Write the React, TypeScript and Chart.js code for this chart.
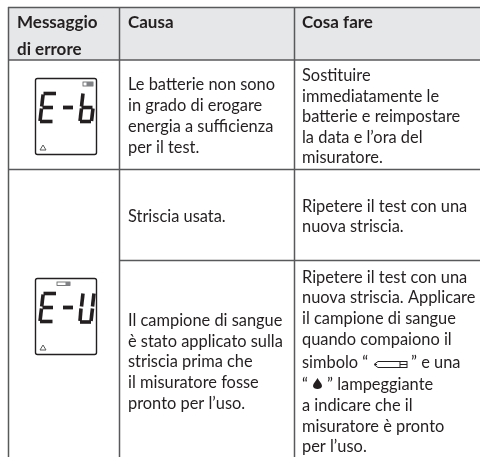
import React, { useEffect, useRef } from "react";
import { Chart, registerables } from "chart.js";

Chart.register(...registerables);

const WIDTH = 480;
const HEIGHT = 457;

// Table text
const headerTexts = ["Messaggio", "di errore", "Causa", "Cosa fare"];
const headerX = [17, 17, 128, 302];
const headerY = [28, 55, 28, 28];

const bodyTexts = [
  "Le batterie non sono", "in grado di erogare", "energia a sufficienza", "per il test.",
  "Sostituire", "immediatamente le", "batterie e reimpostare", "la data e l’ora del", "misuratore.",
  "Striscia usata.",
  "Ripetere il test con una", "nuova striscia.",
  "Il campione di sangue", "è stato applicato sulla", "striscia prima che", "il misuratore fosse", "pronto per l’uso.",
  "Ripetere il test con una", "nuova striscia. Applicare", "il campione di sangue", "quando compaiono il",
  "simbolo “", "” e una", "“", "” lampeggiante",
  "a indicare che il", "misuratore è pronto", "per l’uso.",
];
const bodyX = [
  128, 128, 128, 128,
  302, 302, 302, 302, 302,
  128,
  302, 302,
  128, 128, 128, 128, 128,
  302, 302, 302, 302,
  302, 411, 302, 327,
  302, 302, 302,
];
const bodyY = [
  90, 111, 132, 153,
  81, 101.5, 122, 142.5, 163,
  221.5,
  211.5, 232,
  326, 346.7, 367.3, 388.3, 409,
  282.7, 303, 324.3, 345,
  367.7, 367.7, 390, 390,
  411, 431.7, 452.3,
];

// Table rules as [x1, y1, x2, y2]
const ruleCoords = [
  [8, 7.5, 480, 7.5],
  [8, 60, 480, 60],
  [8, 169.5, 480, 169.5],
  [119.5, 260.5, 480, 260.5],
  [8.5, 7, 8.5, 457],
  [119.5, 7, 119.5, 457],
  [294.5, 7, 294.5, 457],
];

// LCD icon
const lcdTops = [78.5, 278.5];
const lcdLeft = 35.5;
const lcdRight = 96.5;
const lcdHeight = 76;

// Seven segment strokes relative to the LCD box: x1, y1, x2, y2
const glyphE = [
  [8, 15, 20.5, 15], [7.6, 16, 6.2, 28], [7, 29, 17.5, 29], [6, 30, 4.5, 42.5], [4.5, 43, 17, 43],
];
const glyphDash = [[27.5, 29, 37.5, 29]];
const glyphB = [
  [47.5, 15, 46, 28], [46, 30, 44.5, 42.5], [46, 29, 57, 29], [57.5, 30, 56, 42.5], [44.5, 43, 55.5, 43],
];
const glyphU = [
  [58.5, 15, 57, 28], [57, 30, 55.5, 42.5], [45.5, 30, 44.5, 42.5], [47.5, 15, 46, 28], [44.5, 43.5, 55.5, 43.5],
];

const tablePlugin = {
  id: "tablePlugin",
  beforeDatasetsDraw(chart: any) {
    const { ctx, scales } = chart;
    const X = (v: number) => scales.x.getPixelForValue(v);
    const Y = (v: number) => scales.y.getPixelForValue(v);
    ctx.save();
    ctx.fillStyle = "#e6e7e8";
    ctx.fillRect(X(8), Y(7.5), X(480) - X(8), Y(60) - Y(7.5));
    ctx.restore();
  },
  afterDatasetsDraw(chart: any) {
    const { ctx, scales } = chart;
    const X = (v: number) => scales.x.getPixelForValue(v);
    const Y = (v: number) => scales.y.getPixelForValue(v);
    ctx.save();
    ctx.textBaseline = "alphabetic";
    ctx.fillStyle = "#231f20";
    ctx.font = "700 17px Lato";
    headerTexts.forEach((t, i) => ctx.fillText(t, X(headerX[i]), Y(headerY[i])));
    ctx.font = "400 16.4px Lato";
    bodyTexts.forEach((t, i) => ctx.fillText(t, X(bodyX[i]), Y(bodyY[i])));

    const drawStrokes = (strokes: number[][], top: number, w: number) => {
      ctx.lineWidth = w;
      ctx.lineCap = "butt";
      ctx.strokeStyle = "#231f20";
      strokes.forEach((s) => {
        ctx.beginPath();
        ctx.moveTo(X(lcdLeft + s[0]), Y(top + s[1]));
        ctx.lineTo(X(lcdLeft + s[2]), Y(top + s[3]));
        ctx.stroke();
      });
    };

    lcdTops.forEach((top, i) => {
      ctx.strokeStyle = "#231f20";
      ctx.lineWidth = 1.4;
      ctx.beginPath();
      ctx.roundRect(X(lcdLeft), Y(top), X(lcdRight) - X(lcdLeft), Y(top + lcdHeight) - Y(top), 2);
      ctx.stroke();
      drawStrokes(glyphE, top, 3.6);
      drawStrokes(glyphDash, top, 3.8);
      drawStrokes(i === 0 ? glyphB : glyphU, top, 3.6);
      // warning triangle
      const tx = X(lcdLeft + 7.5);
      const ty = Y(top + 69);
      ctx.strokeStyle = "#58595b";
      ctx.lineWidth = 1;
      ctx.beginPath();
      ctx.moveTo(tx, ty - 2.5);
      ctx.lineTo(tx + 3, ty + 2.5);
      ctx.lineTo(tx - 3, ty + 2.5);
      ctx.closePath();
      ctx.stroke();
      // status icon
      ctx.lineWidth = 0.8;
      if (i === 0) {
        ctx.strokeRect(X(lcdLeft + 47.5), Y(top + 3.5), 10, 4);
        ctx.fillStyle = "#808285";
        ctx.fillRect(X(lcdLeft + 51), Y(top + 3.5), 6.5, 4);
      } else {
        ctx.strokeRect(X(lcdLeft + 21.5), Y(top + 3.5), 13, 3.5);
        ctx.fillStyle = "#808285";
        ctx.fillRect(X(lcdLeft + 30), Y(top + 3.5), 4.5, 3.5);
      }
    });

    // inline strip symbol
    const sx = X(374);
    const sy = Y(361.5);
    ctx.strokeStyle = "#231f20";
    ctx.lineWidth = 1;
    ctx.beginPath();
    ctx.moveTo(sx + 4, sy);
    ctx.lineTo(sx + 26, sy);
    ctx.moveTo(sx + 4, sy);
    ctx.lineTo(sx, sy + 3);
    ctx.lineTo(sx + 4, sy + 6);
    ctx.lineTo(sx + 26, sy + 6);
    ctx.moveTo(sx + 1, sy + 3);
    ctx.lineTo(sx + 3, sy + 3);
    ctx.stroke();
    ctx.strokeRect(X(400), sy, 7, 6);
    ctx.beginPath();
    ctx.moveTo(X(400), sy + 3);
    ctx.lineTo(X(407), sy + 3);
    ctx.stroke();

    // inline drop symbol
    const dx = X(317.5);
    const dy = Y(378);
    ctx.fillStyle = "#231f20";
    ctx.beginPath();
    ctx.moveTo(dx, dy);
    ctx.bezierCurveTo(dx + 1.5, dy + 3, dx + 4.5, dy + 5.5, dx + 4.5, dy + 8);
    ctx.bezierCurveTo(dx + 4.5, dy + 12, dx - 4.5, dy + 12, dx - 4.5, dy + 8);
    ctx.bezierCurveTo(dx - 4.5, dy + 5.5, dx - 1.5, dy + 3, dx, dy);
    ctx.fill();
    ctx.restore();
  },
};

export default function App() {
  const ref = useRef<HTMLCanvasElement | null>(null);
  useEffect(() => {
    document.body.style.margin = "0";
    const chart = new Chart(ref.current as HTMLCanvasElement, {
      type: "scatter",
      data: {
        datasets: ruleCoords.map((r) => ({
          data: [{ x: r[0], y: r[1] }, { x: r[2], y: r[3] }],
          showLine: true,
          pointRadius: 0,
          borderColor: "#58595b",
          borderWidth: 1.5,
        })),
      },
      options: {
        responsive: false,
        animation: false,
        layout: { padding: 0 },
        plugins: { legend: { display: false }, tooltip: { enabled: false } },
        scales: {
          x: { type: "linear", min: 0, max: WIDTH, display: false },
          y: { type: "linear", min: 0, max: HEIGHT, reverse: true, display: false },
        },
      },
      plugins: [tablePlugin],
    } as any);
    return () => chart.destroy();
  }, []);
  return (
    <div style={{ width: WIDTH, height: HEIGHT, background: "#fff" }}>
      <canvas ref={ref} width={WIDTH} height={HEIGHT} style={{ display: "block" }} />
    </div>
  );
}
